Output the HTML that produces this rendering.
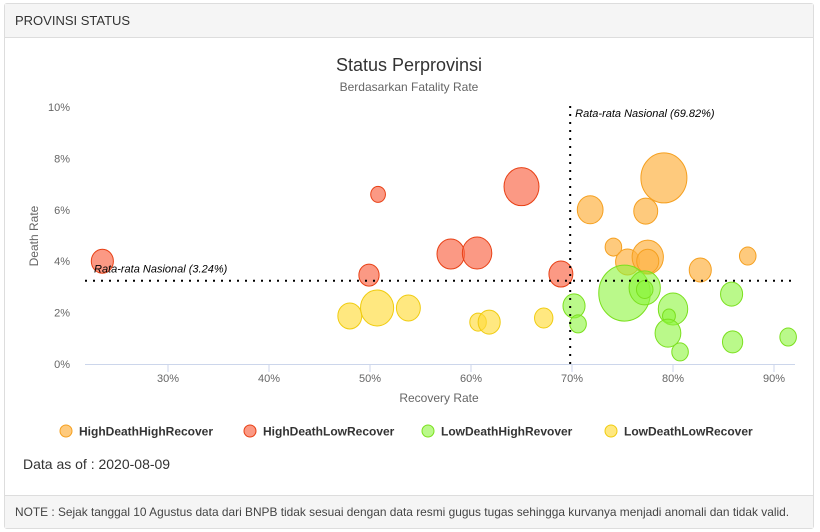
<!DOCTYPE html>
<html><head><meta charset="utf-8"><style>
body{margin:0;width:820px;height:532px;background:#fff;font-family:"Liberation Sans",sans-serif;overflow:hidden}
.card{position:absolute;left:4px;top:3px;width:810px;height:526px;border:1px solid #ddd;border-radius:3px;box-sizing:border-box}
.head{position:absolute;left:0;top:0;right:0;height:33px;background:#f5f5f5;border-bottom:1px solid #ddd;font-size:13px;color:#333;line-height:33px;padding-left:10px}
.foot{position:absolute;left:0;bottom:0;right:0;height:32px;background:#f5f5f5;border-top:1px solid #ddd;font-size:11.9px;color:#444;line-height:32px;padding-left:10px}
.asof{position:absolute;left:23px;top:456px;font-size:14px;color:#333}
</style></head><body>
<div class="card">
<div class="head">PROVINSI STATUS</div>
<div class="foot">NOTE : Sejak tanggal 10 Agustus data dari BNPB tidak sesuai dengan data resmi gugus tugas sehingga kurvanya menjadi anomali dan tidak valid.</div>
</div>
<div class="asof">Data as of : 2020-08-09</div>
<svg id="chart" width="820" height="532" style="position:absolute;left:0;top:0"></svg>
<script>
const seriesNames=["HighDeathHighRecover","HighDeathLowRecover","LowDeathHighRevover","LowDeathLowRecover"];
const fills=["rgba(253,180,70,0.7)","rgba(250,110,80,0.7)","rgba(140,245,60,0.6)","rgba(255,220,60,0.65)"];
const strokes=["#f5a020","#e84015","#7be01e","#f0cc10"];
const hdhrX=[79.1,71.8,77.3,74.1,75.5,77.5,77.5,82.7,87.4];
const hdhrY=[7.24,6.0,5.95,4.55,3.97,4.16,4.0,3.66,4.2];
const hdhrZ=[25,14,13,9,13,17,12,12,9];
const hdlrX=[23.5,50.8,49.9,58.0,60.6,65.0,68.9];
const hdlrY=[4.0,6.6,3.46,4.28,4.32,6.9,3.5];
const hdlrZ=[12,8,11,15,16,19,13];
const ldhrX=[75.2,77.2,77.2,80.0,79.6,79.5,80.7,70.2,70.6,85.8,85.9,91.4];
const ldhrY=[2.76,2.96,2.9,2.14,1.87,1.2,0.47,2.26,1.56,2.72,0.86,1.05];
const ldhrZ=[28,17,9,16,7,14,9,12,9,12,11,9];
const ldlrX=[48.0,50.7,53.8,60.7,61.8,67.2];
const ldlrY=[1.87,2.18,2.18,1.63,1.63,1.79];
const ldlrZ=[13,18,13,9,12,10];
const xTicks=[30,40,50,60,70,80,90];
const yTicks=[0,2,4,6,8,10];
const avgX=69.82, avgY=3.24;
const NS="http://www.w3.org/2000/svg";
const svg=document.getElementById('chart');
const X=v=>168+(v-30)*10.1;
const Y=v=>364-v*25.7;
function mk(t,a,txt){const e=document.createElementNS(NS,t);for(const k in a)e.setAttribute(k,a[k]);if(txt!=null)e.textContent=txt;svg.appendChild(e);return e;}
let e;
e=mk('text',{x:409,y:71,'text-anchor':'middle','font-size':18,fill:'#333'},'Status Perprovinsi');


e=mk('text',{x:409,y:91,'text-anchor':'middle','font-size':12,fill:'#666'},'Berdasarkan Fatality Rate');


e=mk('line',{x1:85,x2:795,y1:364.5,y2:364.5,stroke:'#ccd6eb'});


xTicks.forEach(t=>{
 e=mk('line',{x1:X(t),x2:X(t),y1:365,y2:372,stroke:'#ccd6eb'});
 
 
 e=mk('text',{x:X(t),y:382,'text-anchor':'middle','font-size':11,fill:'#666'},t+'%');
 
 
});
yTicks.forEach(t=>{
 e=mk('text',{x:70,y:Y(t)+4,'text-anchor':'end','font-size':11,fill:'#666'},t+'%');
 
 
});
e=mk('text',{x:439,y:402,'text-anchor':'middle','font-size':12,fill:'#666'},'Recovery Rate');


e=mk('text',{x:38,y:236,'text-anchor':'middle','font-size':12,fill:'#666',transform:'rotate(-90 38 236)'},'Death Rate');


const data=[[hdhrX,hdhrY,hdhrZ],[hdlrX,hdlrY,hdlrZ],[ldhrX,ldhrY,ldhrZ],[ldlrX,ldlrY,ldlrZ]];
const order=[1,3,0,2];
order.forEach(s=>{const [xs,ys,zs]=data[s];xs.forEach((v,i)=>{
 e=mk('ellipse',{cx:X(v),cy:Y(ys[i]),rx:zs[i]*0.92,ry:zs[i],fill:fills[s],stroke:strokes[s],'stroke-width':1});
 
 
});});
e=mk('line',{x1:X(avgX),x2:X(avgX),y1:106,y2:364,stroke:'#000','stroke-width':2,'stroke-dasharray':'2,6'});


e=mk('text',{x:X(avgX)+5,y:117,'font-size':11,fill:'#000','font-style':'italic'},'Rata-rata Nasional (69.82%)');


e=mk('line',{x1:85,x2:795,y1:Y(avgY),y2:Y(avgY),stroke:'#000','stroke-width':2,'stroke-dasharray':'2,6'});


e=mk('text',{x:94,y:Y(avgY)-8,'font-size':11,fill:'#000','font-style':'italic'},'Rata-rata Nasional (3.24%)');


const legX=[66,250,428,611];
seriesNames.forEach((n,s)=>{
 e=mk('circle',{cx:legX[s],cy:431,r:6,fill:fills[s],stroke:strokes[s]});
 
 
 e=mk('text',{x:legX[s]+13,y:435.5,'font-size':12,'font-weight':'bold',fill:'#333'},n);
 
 
});
</script>
</body></html>
